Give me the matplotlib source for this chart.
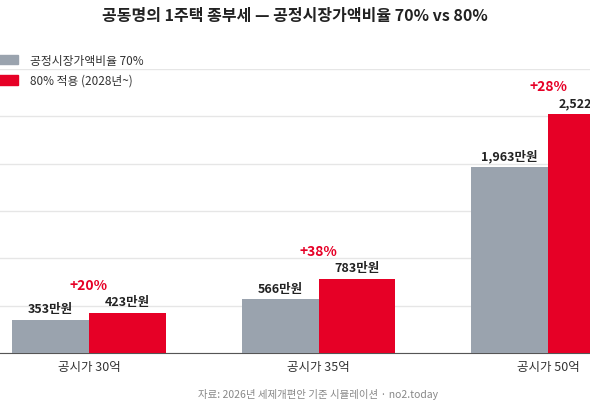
import matplotlib
matplotlib.use("Agg")
import matplotlib.pyplot as plt
from matplotlib.patches import Patch
import numpy as np

plt.rcParams['font.family'] = ['Noto Sans CJK KR', 'DejaVu Sans']

categories = ["공시가 30억", "공시가 35억", "공시가 50억"]
tax70 = [353, 566, 1963]
tax80 = [423, 783, 2522]
increase = ["+20%", "+38%", "+28%"]

grey = "#9aa3ae"
red = "#e60026"

fig = plt.figure(figsize=(5.9, 4.1), dpi=100)
ax = fig.add_axes([0, 56/410, 1, (354-70)/410])
x = np.arange(len(categories))
w = 0.335
ax.bar(x - w/2, tax70, w, color=grey, zorder=3)
ax.bar(x + w/2, tax80, w, color=red, zorder=3)
for i in range(len(categories)):
    ax.text(x[i]-w/2, tax70[i]+50, f"{tax70[i]:,}만원", ha='center', va='bottom', fontsize=9, fontweight='bold', color='#222222')
    ax.text(x[i]+w/2, tax80[i]+50, f"{tax80[i]:,}만원", ha='center', va='bottom', fontsize=9, fontweight='bold', color='#222222')
    ax.text(x[i], tax80[i]+220, increase[i], ha='center', va='bottom', fontsize=10, fontweight='bold', color=red)
ax.set_xlim(-89/229.5, 501/229.5)
ax.set_ylim(0, 3000)
ax.set_yticks(np.arange(0, 3001, 500))
ax.yaxis.grid(True, color='#e6e6e6', lw=1, zorder=0)
ax.tick_params(axis='y', length=0, labelleft=False)
ax.set_xticks(x)
ax.set_xticklabels(categories, fontsize=9, color='#333333')
ax.tick_params(axis='x', length=0, pad=5)
for s in ['top', 'right', 'left']:
    ax.spines[s].set_visible(False)
ax.spines['bottom'].set_color('#555555')

fig.text(0.5, 1-16/410, "공동명의 1주택 종부세 — 공정시장가액비율 70% vs 80%", ha='center', va='center', fontsize=11.5, fontweight='bold', color='#222222')
fig.legend(handles=[Patch(color=grey, label="공정시장가액비율 70%"), Patch(color=red, label="80% 적용 (2028년~)")],
           loc='upper left', bbox_to_anchor=(-0.035, 1-44/410), frameon=False, fontsize=8.5,
           handlelength=2.4, handleheight=0.9, handletextpad=1.0, labelspacing=0.6, labelcolor='#333333')
fig.text(318/590, 1-395/410, "자료: 2026년 세제개편안 기준 시뮬레이션 · no2.today", ha='center', va='center', fontsize=7.5, color='#888888')
fig.savefig("out.png", dpi=100)
